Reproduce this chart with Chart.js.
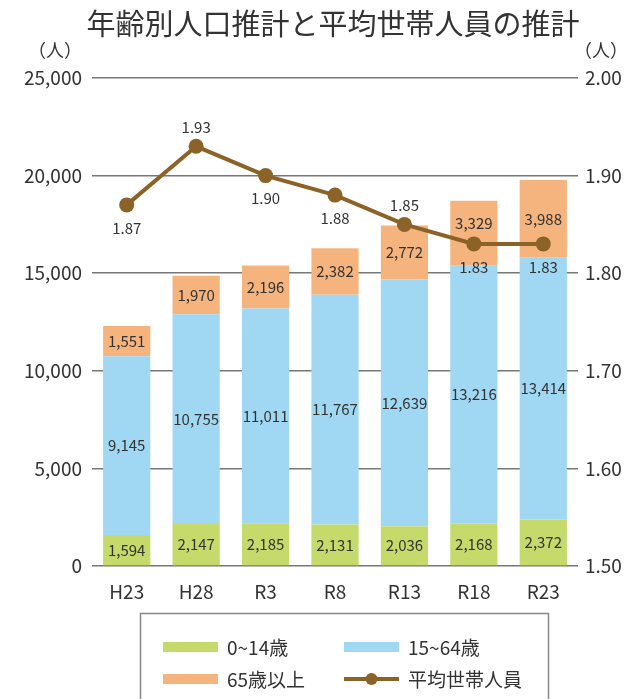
<!DOCTYPE html>
<html><head><meta charset="utf-8">
<script src="https://cdn.jsdelivr.net/npm/chart.js@4/dist/chart.umd.min.js"></script>
<style>html,body{margin:0;padding:0;background:#fff}#wrap{width:630px;height:699px;position:relative}</style>
</head><body><div id="wrap"><canvas id="c" width="630" height="699"></canvas></div>
<script>
const categories = ["H23","H28","R3","R8","R13","R18","R23"];
const age0to14 = [1594,2147,2185,2131,2036,2168,2372];
const age15to64 = [9145,10755,11011,11767,12639,13216,13414];
const age65plus = [1551,1970,2196,2382,2772,3329,3988];
const householdSize = [1.87,1.93,1.90,1.88,1.85,1.83,1.83];
const lineLabelAbove = [false,true,false,false,true,false,false];
const seriesNames = ["0~14歳","15~64歳","65歳以上","平均世帯人員"];
const titleText = "年齢別人口推計と平均世帯人員の推計";
const unitText = "（人）";

const FONT = '"Noto Sans CJK JP","Noto Sans",sans-serif';
const colors = {green:"#c5da6b", blue:"#a0d8f3", orange:"#f5b47d", brown:"#8b6228"};

const fmt = v => v.toLocaleString("en-US");

const labelsPlugin = {
  id:"labelsPlugin",
  afterDatasetsDraw(chart){
    const ctx = chart.ctx;
    ctx.save();
    ctx.font = "15px " + FONT;
    ctx.fillStyle = "#333";
    ctx.textAlign = "center";
    ctx.textBaseline = "middle";
    const lm = chart.getDatasetMeta(3);
    [0,1,2].forEach(di=>{
      const meta = chart.getDatasetMeta(di);
      meta.data.forEach((el,i)=>{
        const v = chart.data.datasets[di].data[i];
        let y = (el.y + el.base)/2;
        const ly = lm.data[i].y;
        if (di === 2 && ly > el.y + 5 && ly < el.base + 10) y = Math.min(y, ly - 21);
        ctx.fillText(fmt(v), el.x, y);
      });
    });
    lm.data.forEach((el,i)=>{
      const v = chart.data.datasets[3].data[i];
      const y = lineLabelAbove[i] ? el.y - 19 : el.y + 23;
      ctx.fillText(v.toFixed(2), el.x, y);
    });
    ctx.restore();
  },
  afterDraw(chart){
    const ctx = chart.ctx;
    ctx.save();
    ctx.fillStyle = "#333";
    ctx.textAlign = "center";
    ctx.textBaseline = "middle";
    ctx.font = "29px " + FONT;
    ctx.fillText(titleText, 333, 24);
    ctx.font = "18px " + FONT;
    ctx.fillText(unitText, 55, 50);
    ctx.fillText(unitText, 601, 50);
    ctx.strokeStyle = "#888";
    ctx.lineWidth = 1.5;
    ctx.strokeRect(140.5, 613.5, 408, 100);
    const items = [
      {x:163, y:647, ds:0},
      {x:344, y:647, ds:1},
      {x:163, y:679, ds:2},
      {x:344, y:679, ds:3}
    ];
    ctx.font = "19px " + FONT;
    ctx.textAlign = "left";
    items.forEach(it=>{
      const d = chart.data.datasets[it.ds];
      if (d.type === "line") {
        ctx.strokeStyle = d.borderColor;
        ctx.lineWidth = 4;
        ctx.beginPath(); ctx.moveTo(it.x, it.y); ctx.lineTo(it.x+55, it.y); ctx.stroke();
        ctx.fillStyle = d.borderColor;
        ctx.beginPath(); ctx.arc(it.x+27.5, it.y, 6, 0, Math.PI*2); ctx.fill();
      } else {
        ctx.fillStyle = d.backgroundColor;
        ctx.fillRect(it.x, it.y-5, 55, 10);
      }
      ctx.fillStyle = "#333";
      ctx.fillText(d.label, it.x+64, it.y+1);
    });
    ctx.restore();
  }
};

new Chart(document.getElementById("c"), {
  data:{
    labels: categories,
    datasets:[
      {type:"bar", label:seriesNames[0], data:age0to14, backgroundColor:colors.green, yAxisID:"y", stack:"s", order:1},
      {type:"bar", label:seriesNames[1], data:age15to64, backgroundColor:colors.blue, yAxisID:"y", stack:"s", order:1},
      {type:"bar", label:seriesNames[2], data:age65plus, backgroundColor:colors.orange, yAxisID:"y", stack:"s", order:1},
      {type:"line", label:seriesNames[3], data:householdSize, borderColor:colors.brown, backgroundColor:colors.brown,
       borderWidth:4, pointRadius:7.5, pointBackgroundColor:colors.brown, pointBorderWidth:0, yAxisID:"y1", order:0, tension:0}
    ]
  },
  options:{
    responsive:false, animation:false, devicePixelRatio:1,
    layout:{padding:{top:78,left:0,right:0,bottom:0}},
    plugins:{legend:{display:false}, tooltip:{enabled:false}},
    datasets:{bar:{barPercentage:0.68, categoryPercentage:1.0}},
    scales:{
      x:{
        stacked:true,
        grid:{display:false},
        border:{display:false},
        ticks:{color:"#333", font:{size:19, family:FONT}, padding:6},
        afterFit(s){ s.height = 133; }
      },
      y:{
        position:"left", stacked:true, min:0, max:25000,
        ticks:{stepSize:5000, color:"#333", font:{size:19, family:FONT}, padding:10, callback:v=>fmt(v)},
        grid:{color:"#777", lineWidth:1.5, drawTicks:false},
        border:{display:false},
        afterFit(s){ s.width = 92; }
      },
      y1:{
        position:"right", min:1.5, max:2.0,
        ticks:{stepSize:0.1, color:"#333", font:{size:19, family:FONT}, padding:7, callback:v=>Number(v).toFixed(2)},
        grid:{display:false, drawTicks:false},
        border:{display:false},
        afterFit(s){ s.width = 52; }
      }
    }
  },
  plugins:[labelsPlugin]
});
</script></body></html>
